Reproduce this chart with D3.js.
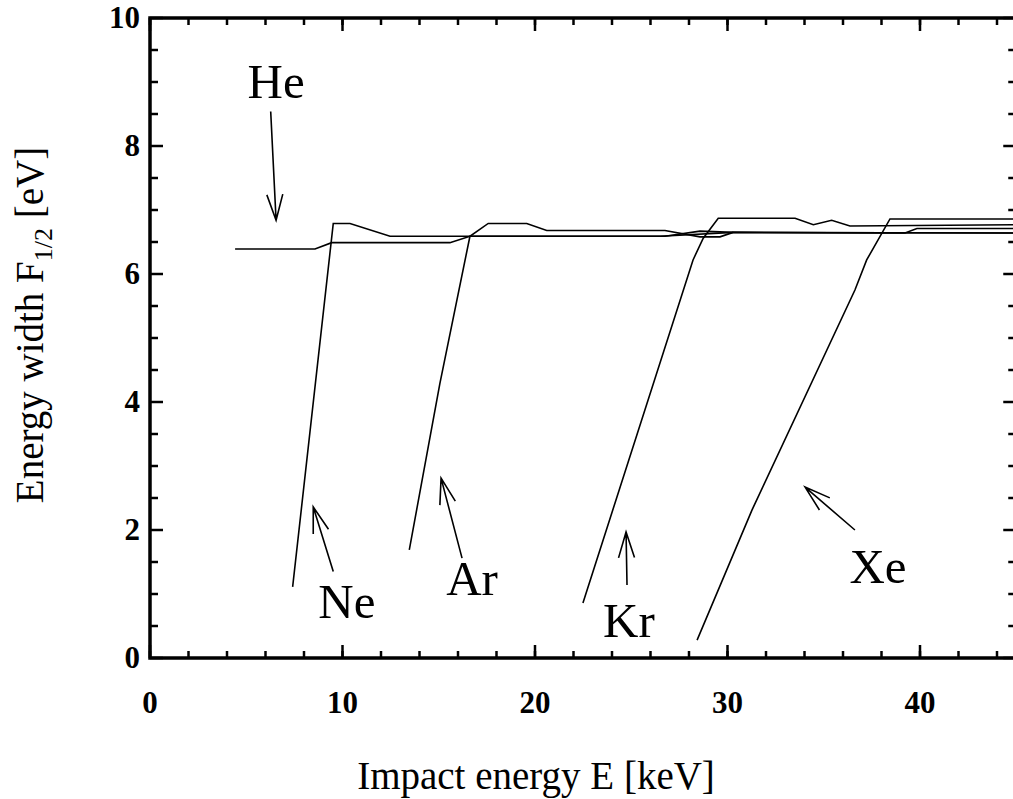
<!DOCTYPE html>
<html lang="en">
<head>
<meta charset="UTF-8"/>
<title>Energy width vs impact energy</title>
<script src="https://d3js.org/d3.v7.min.js"></script>
<style>
html, body { margin: 0; padding: 0; background: #fff; overflow: hidden; }
svg { display: block; }
text { font-family: "Liberation Serif", "Times New Roman", serif; fill: #000; }
.tick-label { font-size: 31px; font-weight: bold; }
.axis-title { font-size: 39px; }
.gas { font-size: 49px; }
.curve { fill: none; stroke: #000; stroke-width: 1.6; }
.frame { stroke: #000; stroke-width: 3.5; fill: none; }
.tk { stroke: #000; stroke-width: 2.5; }
.arrow { fill: none; stroke: #000; stroke-width: 1.6; }
</style>
</head>
<body>
<svg width="1013" height="799"></svg>
<script>
// axis ticks
const xTicks = [0, 10, 20, 30, 40];
const yTicks = [0, 2, 4, 6, 8, 10];

// curves, [E keV, F1/2 eV]
const He = [[4.42,6.39],[8.57,6.39],[9.44,6.49],[15.58,6.49],[16.62,6.59],[26.5,6.59],[30.3,6.65],[45,6.64]];
const Ne = [[7.41,1.11],[9.52,6.79],[10.39,6.79],[12.47,6.59],[26.75,6.59],[28.57,6.67],[30.29,6.65],[39.22,6.64],[39.84,6.71],[45,6.71]];
const Ar = [[13.47,1.69],[15.06,4.29],[16.62,6.59],[17.57,6.79],[19.57,6.79],[20.61,6.68],[26.75,6.68],[28.57,6.58],[29.61,6.58],[30.29,6.65],[45,6.64]];
const Kr = [[22.49,0.86],[28.21,6.22],[28.74,6.56],[29.52,6.87],[33.51,6.87],[34.46,6.77],[35.41,6.84],[36.36,6.75],[45,6.77]];
const Xe = [[28.42,0.28],[31.27,2.31],[36.62,5.75],[37.23,6.22],[38.44,6.86],[45,6.86]];

// labels: name, x, y (baseline) ; arrows: tail -> head
const gasNames = ['He', 'Ne', 'Ar', 'Kr', 'Xe'];
const labelPos = [[6.55,8.75],[10.23,0.62],[16.73,0.98],[24.88,0.33],[37.82,1.17]];
const arrows = [
  [[6.27,8.54],[6.55,6.84]],
  [[9.52,1.35],[8.48,2.36]],
  [[16.21,1.56],[15.12,2.81]],
  [[24.78,1.14],[24.73,1.97]],
  [[36.62,2.0],[34.03,2.67]]
];

const svg = d3.select('svg');
const mLeft = 150, mTop = 18, mBottom = 658;

const x = d3.scaleLinear().domain([0, 45]).range([mLeft, mLeft + 45 * 19.25]);
const y = d3.scaleLinear().domain([0, 10]).range([mBottom, mTop]);

// ticks (inside, all four sides)
const g = svg.append('g');
const xMinor = d3.range(0, 45.01, 2);
const yMinor = d3.range(0, 10.01, 0.5);

xMinor.forEach(v => {
  g.append('line').attr('class', 'tk')
    .attr('x1', x(v)).attr('x2', x(v)).attr('y1', mBottom).attr('y2', mBottom - 7);
  g.append('line').attr('class', 'tk')
    .attr('x1', x(v)).attr('x2', x(v)).attr('y1', mTop).attr('y2', mTop + 7);
});
xTicks.forEach(v => {
  g.append('line').attr('class', 'tk')
    .attr('x1', x(v)).attr('x2', x(v)).attr('y1', mBottom).attr('y2', mBottom - 13);
  g.append('line').attr('class', 'tk')
    .attr('x1', x(v)).attr('x2', x(v)).attr('y1', mTop).attr('y2', mTop + 13);
});
yMinor.forEach(v => {
  const major = Math.abs(v % 2) < 1e-6;
  const len = major ? 13 : 8;
  g.append('line').attr('class', 'tk')
    .attr('x1', mLeft).attr('x2', mLeft + len).attr('y1', y(v)).attr('y2', y(v));
  g.append('line').attr('class', 'tk')
    .attr('x1', x(45)).attr('x2', x(45) - len).attr('y1', y(v)).attr('y2', y(v));
});

// frame
g.append('rect').attr('class', 'frame')
  .attr('x', mLeft).attr('y', mTop)
  .attr('width', x(45) - mLeft).attr('height', mBottom - mTop);

// tick labels
xTicks.forEach(v => {
  svg.append('text').attr('class', 'tick-label')
    .attr('x', x(v)).attr('y', 713)
    .attr('text-anchor', 'middle').text(v);
});
yTicks.forEach(v => {
  svg.append('text').attr('class', 'tick-label')
    .attr('x', 140).attr('y', y(v) + 10)
    .attr('text-anchor', 'end').text(v);
});

// curves
const line = d3.line().x(d => x(d[0])).y(d => y(d[1]));
[He, Ne, Ar, Kr, Xe].forEach(s => {
  svg.append('path').attr('class', 'curve').attr('d', line(s));
});

// arrows
arrows.forEach(a => {
  const x1 = x(a[0][0]), y1 = y(a[0][1]);
  const x2 = x(a[1][0]), y2 = y(a[1][1]);
  const ang = Math.atan2(y2 - y1, x2 - x1);
  const hl = 27, ha = 0.3;
  const p = d3.path();
  p.moveTo(x1, y1); p.lineTo(x2, y2);
  p.moveTo(x2 - hl * Math.cos(ang - ha), y2 - hl * Math.sin(ang - ha));
  p.lineTo(x2, y2);
  p.lineTo(x2 - hl * Math.cos(ang + ha), y2 - hl * Math.sin(ang + ha));
  svg.append('path').attr('class', 'arrow').attr('d', p.toString());
});

// gas labels
gasNames.forEach((n, i) => {
  svg.append('text').attr('class', 'gas')
    .attr('x', x(labelPos[i][0])).attr('y', y(labelPos[i][1]))
    .attr('text-anchor', 'middle').text(n);
});

// axis titles
svg.append('text').attr('class', 'axis-title')
  .attr('x', 536).attr('y', 789)
  .attr('text-anchor', 'middle')
  .text('Impact energy E [keV]');

const yt = svg.append('text').attr('class', 'axis-title')
  .attr('transform', 'translate(43, 325) rotate(-90)')
  .attr('text-anchor', 'middle');
yt.append('tspan').text('Energy width F');
yt.append('tspan').attr('dy', 9).style('font-size', '26px').text('1/2');
yt.append('tspan').attr('dy', -9).text(' [eV]');
</script>
</body>
</html>
